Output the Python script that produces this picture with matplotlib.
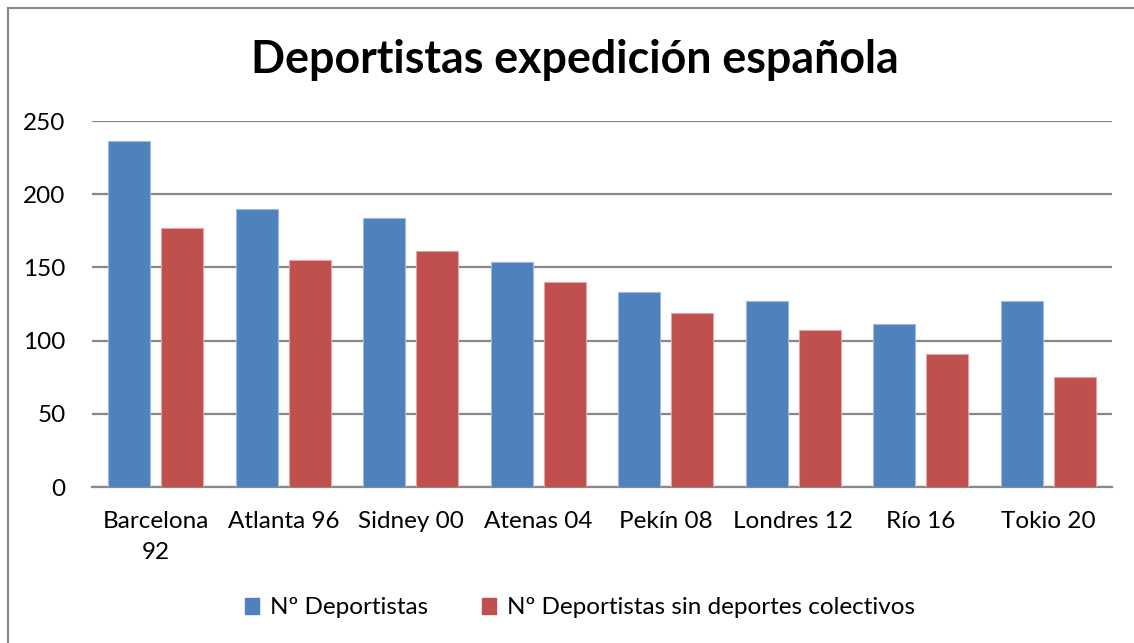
import matplotlib
matplotlib.use("Agg")
import matplotlib.pyplot as plt
import numpy as np
from matplotlib.lines import Line2D

categories = ["Barcelona\n92", "Atlanta 96", "Sidney 00", "Atenas 04", "Pekín 08",
              "Londres 12", "Río 16", "Tokio 20"]
deportistas = [236, 190, 184, 154, 133, 127, 111, 127]
sin_colectivos = [177, 155, 161, 140, 119, 107, 91, 75]
series_names = ["Nº Deportistas", "Nº Deportistas sin deportes colectivos"]
title = "Deportistas expedición española"
yticks = [0, 50, 100, 150, 200, 250]

plt.rcParams['font.family'] = ['Lato', 'DejaVu Sans']

W, H = 1134, 643
fig = plt.figure(figsize=(W / 100, H / 100), dpi=100)
ax = fig.add_axes([92 / W, 1 - 487 / H, (1112 - 92) / W, (487 - 121) / H])

x = np.arange(len(categories))
bw = 42 / 127.5
off = 26.5 / 127.5
blue = "#4F81BD"
red = "#C0504D"
ax.bar(x - off, deportistas, bw, color=blue, edgecolor="#9DB9DD", linewidth=0.8, zorder=3,
       label=series_names[0])
ax.bar(x + off, sin_colectivos, bw, color=red, edgecolor="#E3A5A3", linewidth=0.8, zorder=3,
       label=series_names[1])

ax.set_xlim(-0.5, len(categories) - 0.5)
ax.set_ylim(0, 250)
ax.set_yticks(yticks)
ax.set_yticklabels([str(v) for v in yticks], fontsize=17.5)
ax.set_xticks(x)
ax.set_xticklabels(categories, fontsize=17.5, linespacing=1.6)
ax.tick_params(axis='both', length=0, colors='black')
ax.tick_params(axis='y', pad=19)
ax.tick_params(axis='x', pad=17)
ax.grid(axis='y', color='#888888', linewidth=1.6, zorder=0)
for s in ['top', 'right', 'left']:
    ax.spines[s].set_visible(False)
ax.spines['bottom'].set_color('#888888')
ax.spines['bottom'].set_linewidth(1.6)

fig.text(575 / W, 1 - 60 / H, title, fontsize=32.2, fontweight='bold', ha='center', va='center')

handles = [plt.Rectangle((0, 0), 1, 1, color=blue), plt.Rectangle((0, 0), 1, 1, color=red)]
fig.legend(handles, series_names, loc='center', bbox_to_anchor=(580 / W, 1 - 608 / H),
           ncol=2, frameon=False, fontsize=17.5, handlelength=0.6, handleheight=0.6,
           handletextpad=0.45, columnspacing=2.2)

# partial chart-area border (left and top visible)
fig.add_artist(Line2D([7.5 / W, 7.5 / W], [0, 1 - 8 / H], transform=fig.transFigure,
                      color='#888888', linewidth=1.5))
fig.add_artist(Line2D([7.5 / W, 1], [1 - 8 / H, 1 - 8 / H], transform=fig.transFigure,
                      color='#888888', linewidth=1.5))

fig.savefig("out.png", dpi=100)
